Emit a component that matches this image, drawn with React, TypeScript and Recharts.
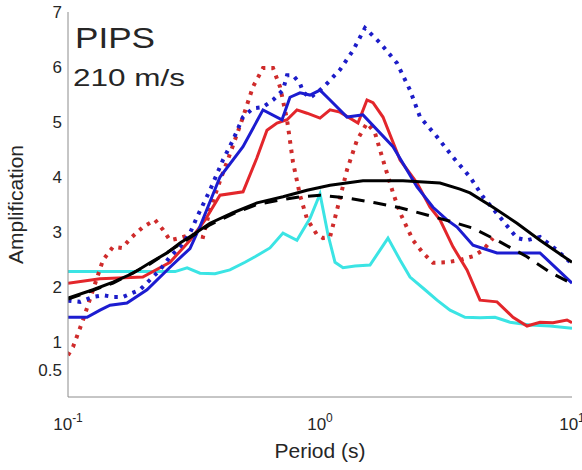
import React from "react";
import { LineChart, Line, XAxis, YAxis } from "recharts";

const FONT = "'Liberation Sans', Arial, Helvetica, sans-serif";

const xMajorTicks = [0.1, 1, 10];
const xMinorTicks = [0.2, 0.3, 0.4, 0.5, 0.6, 0.7, 0.8, 0.9, 2, 3, 4, 5, 6, 7, 8, 9];
const yTickValues = [0.5, 1, 2, 3, 4, 5, 6, 7];

const cyanP = [0.1, 0.161, 0.266, 0.297, 0.334, 0.383, 0.439, 0.504, 0.552, 0.633, 0.713, 0.81, 0.913, 1.0, 1.076, 1.147, 1.234, 1.377, 1.579, 1.73, 1.861, 2.078, 2.276, 2.61, 2.913, 3.281, 3.762, 4.314, 4.948, 5.675, 6.813, 8.178, 10];
const cyanV = [2.28, 2.28, 2.28, 2.35, 2.25, 2.24, 2.31, 2.45, 2.55, 2.71, 2.98, 2.85, 3.25, 3.69, 2.95, 2.45, 2.35, 2.38, 2.4, 2.67, 2.89, 2.49, 2.18, 1.95, 1.76, 1.58, 1.45, 1.44, 1.45, 1.36, 1.31, 1.29, 1.25];

const redP = [0.1, 0.134, 0.198, 0.254, 0.305, 0.35, 0.401, 0.495, 0.562, 0.616, 0.675, 0.74, 0.81, 0.888, 1.0, 1.096, 1.2, 1.415, 1.536, 1.623, 1.778, 2.078, 2.427, 2.733, 2.994, 3.371, 3.831, 4.314, 5.04, 5.834, 6.63, 7.464, 8.405, 9.555, 10];
const redV = [2.07, 2.15, 2.18, 2.45, 2.85, 3.22, 3.67, 3.73, 4.35, 4.85, 4.98, 5.04, 5.22, 5.16, 5.07, 5.22, 5.18, 4.98, 5.4, 5.35, 5.09, 4.31, 3.89, 3.45, 3.22, 2.73, 2.31, 1.76, 1.73, 1.45, 1.29, 1.36, 1.35, 1.4, 1.35];

const redDotP = [0.1, 0.1047, 0.1147, 0.1257, 0.1377, 0.1509, 0.1638, 0.1795, 0.1984, 0.2214, 0.2382, 0.254, 0.2783, 0.3048, 0.3433, 0.3659, 0.401, 0.4394, 0.4948, 0.542, 0.594, 0.651, 0.694, 0.74, 0.7813, 0.8329, 0.8879, 0.973, 1.028, 1.096, 1.168, 1.28, 1.402, 1.536, 1.653, 1.778, 1.949, 2.078, 2.339, 2.563, 2.808, 3.191, 3.594, 4.047, 4.435, 4.86];
const redDotV = [0.76, 0.91, 1.4, 1.95, 2.49, 2.73, 2.71, 2.91, 3.09, 3.22, 3.04, 2.85, 2.89, 2.95, 2.91, 3.4, 3.93, 4.42, 5.09, 5.64, 5.98, 5.98, 5.64, 5.04, 4.27, 3.67, 3.24, 2.95, 2.89, 2.91, 3.4, 4.13, 4.67, 4.98, 4.8, 4.31, 3.71, 3.35, 2.85, 2.62, 2.44, 2.45, 2.49, 2.56, 2.67, 2.89];

const blueP = [0.1, 0.119, 0.134, 0.1468, 0.1714, 0.2058, 0.254, 0.3048, 0.3341, 0.401, 0.4948, 0.594, 0.7067, 0.7601, 0.8329, 0.9127, 1.0, 1.096, 1.28, 1.481, 1.949, 2.427, 2.808, 3.191, 3.497, 4.047, 5.04, 7.464, 10];
const blueV = [1.45, 1.45, 1.58, 1.67, 1.71, 1.95, 2.36, 2.7, 3.1, 4.0, 4.55, 5.22, 5.04, 5.45, 5.53, 5.49, 5.58, 5.4, 5.09, 5.13, 4.55, 3.82, 3.45, 3.22, 3.09, 2.76, 2.62, 2.62, 2.07];

const blueDotP = [0.1, 0.1116, 0.1257, 0.1377, 0.1509, 0.1653, 0.1795, 0.193, 0.2115, 0.2318, 0.254, 0.2783, 0.3048, 0.3249, 0.3659, 0.4121, 0.4516, 0.4948, 0.542, 0.594, 0.651, 0.7131, 0.7399, 0.7813, 0.8329, 0.8561, 0.9127, 1.0, 1.066, 1.2, 1.352, 1.508, 1.73, 2.021, 2.276, 2.494, 2.913, 3.371, 3.937, 4.435, 5.179, 6.049, 6.63, 7.464, 8.718, 10];
const blueDotV = [1.75, 1.73, 1.82, 1.85, 1.82, 1.82, 1.89, 1.95, 2.13, 2.31, 2.55, 2.73, 2.98, 3.27, 3.76, 4.31, 4.67, 5.09, 5.25, 5.27, 5.4, 5.58, 5.85, 5.85, 5.7, 5.55, 5.44, 5.58, 5.7, 5.95, 6.3, 6.71, 6.44, 6.07, 5.58, 5.09, 4.73, 4.36, 4.0, 3.64, 3.27, 2.89, 2.85, 2.91, 2.67, 2.42];

const blackP = [0.1, 0.1257, 0.1509, 0.1811, 0.2115, 0.2471, 0.2783, 0.3133, 0.3659, 0.4516, 0.5623, 0.7131, 0.8879, 1.096, 1.481, 2.135, 2.994, 3.594, 3.937, 4.86, 6.049, 7.464, 10];
const blackV = [1.8, 1.95, 2.09, 2.25, 2.44, 2.62, 2.8, 2.95, 3.16, 3.35, 3.53, 3.64, 3.76, 3.85, 3.93, 3.93, 3.89, 3.78, 3.71, 3.45, 3.16, 2.85, 2.45];

const blackDashP = [0.1, 0.1509, 0.2115, 0.2783, 0.3659, 0.4516, 0.5623, 0.694, 0.8329, 1.0, 1.28, 1.653, 2.078, 2.658, 3.371, 4.047, 5.179, 6.63, 8.178, 10];
const blackDashV = [1.78, 2.07, 2.42, 2.78, 3.13, 3.33, 3.5, 3.58, 3.64, 3.67, 3.62, 3.53, 3.44, 3.31, 3.18, 3.07, 2.82, 2.55, 2.27, 2.06];

const zip = (p: number[], v: number[]) => p.map((x, i) => ({ p: x, v: v[i] }));

const cyanData = zip(cyanP, cyanV);
const redData = zip(redP, redV);
const redDotData = zip(redDotP, redDotV);
const blueData = zip(blueP, blueV);
const blueDotData = zip(blueDotP, blueDotV);
const blackData = zip(blackP, blackV);
const blackDashData = zip(blackDashP, blackDashV);

const AXIS = "#8c8c8c";
const TEXT = "#262626";

const XTick = (props: any) => {
  const { x, y, payload } = props;
  const exp = Math.round(Math.log10(payload.value));
  return (
    <text x={x} y={y + 33} textAnchor="middle" fontSize={17} fill={TEXT} fontFamily={FONT}>
      <tspan>10</tspan>
      <tspan dy={-8} fontSize={12}>{String(exp)}</tspan>
    </text>
  );
};

const YTick = (props: any) => {
  const { x, y, payload } = props;
  return (
    <text x={x - 6} y={y} dy="0.36em" textAnchor="end" fontSize={17} fill={TEXT} fontFamily={FONT}>
      {String(payload.value)}
    </text>
  );
};

const common = {
  type: "number" as const,
  scale: "log" as const,
  domain: [0.1, 10] as [number, number],
  allowDataOverflow: true,
};

export default function App() {
  return (
    <div style={{ position: "absolute", left: 0, top: 0, width: 582, height: 470, background: "#fff" }}>
      <LineChart width={582} height={470} margin={{ top: 12, right: 10, bottom: 0, left: 0 }}>
        <XAxis
          xAxisId="main"
          dataKey="p"
          {...common}
          ticks={xMajorTicks}
          tick={<XTick />}
          tickLine={false}
          tickSize={0}
          tickMargin={0}
          height={73}
          axisLine={{ stroke: AXIS }}
          interval={0}
        />
        <XAxis
          xAxisId="minorB"
          dataKey="p"
          {...common}
          ticks={xMinorTicks}
          tick={false}
          mirror
          height={0}
          tickSize={4}
          tickLine={{ stroke: AXIS }}
          axisLine={false}
          interval={0}
        />
        <XAxis
          xAxisId="majorB"
          dataKey="p"
          {...common}
          ticks={xMajorTicks}
          tick={false}
          mirror
          height={0}
          tickSize={6}
          tickLine={{ stroke: AXIS }}
          axisLine={false}
          interval={0}
        />
        <XAxis
          xAxisId="minorT"
          dataKey="p"
          orientation="top"
          {...common}
          ticks={xMinorTicks}
          tick={false}
          mirror
          height={0}
          tickSize={4}
          tickLine={{ stroke: AXIS }}
          axisLine={{ stroke: AXIS }}
          interval={0}
        />
        <XAxis
          xAxisId="majorT"
          dataKey="p"
          orientation="top"
          {...common}
          ticks={xMajorTicks}
          tick={false}
          mirror
          height={0}
          tickSize={6}
          tickLine={{ stroke: AXIS }}
          axisLine={false}
          interval={0}
        />
        <YAxis
          yAxisId="main"
          type="number"
          domain={[0, 7]}
          allowDataOverflow
          ticks={yTickValues}
          tick={<YTick />}
          tickLine={false}
          tickSize={0}
          tickMargin={0}
          width={68}
          axisLine={{ stroke: AXIS }}
          interval={0}
          label={{
            value: "Amplification",
            angle: -90,
            position: "insideLeft",
            offset: 0,
            dx: 16,
            style: { fontSize: 21, fill: TEXT, fontFamily: FONT, textAnchor: "middle" },
          }}
        />
        <YAxis
          yAxisId="leftTicks"
          type="number"
          domain={[0, 7]}
          allowDataOverflow
          ticks={yTickValues}
          tick={false}
          mirror
          width={0}
          tickSize={5}
          tickLine={{ stroke: AXIS }}
          axisLine={false}
          interval={0}
        />
        <YAxis
          yAxisId="right"
          orientation="right"
          type="number"
          domain={[0, 7]}
          allowDataOverflow
          ticks={yTickValues}
          tick={false}
          mirror
          width={0}
          tickSize={5}
          tickLine={{ stroke: AXIS }}
          axisLine={{ stroke: AXIS }}
          interval={0}
        />

        <Line xAxisId="main" yAxisId="main" data={cyanData} dataKey="v" type="linear" stroke="#3be4e4" strokeWidth={3} dot={false} isAnimationActive={false} />
        <Line xAxisId="main" yAxisId="main" data={redDotData} dataKey="v" type="linear" stroke="#cf2b2b" strokeWidth={4} strokeDasharray="3.5 6" dot={false} isAnimationActive={false} />
        <Line xAxisId="main" yAxisId="main" data={redData} dataKey="v" type="linear" stroke="#e3262b" strokeWidth={3} dot={false} isAnimationActive={false} />
        <Line xAxisId="main" yAxisId="main" data={blueDotData} dataKey="v" type="linear" stroke="#1c1cc8" strokeWidth={4} strokeDasharray="3.5 6" dot={false} isAnimationActive={false} />
        <Line xAxisId="main" yAxisId="main" data={blueData} dataKey="v" type="linear" stroke="#1c1cd0" strokeWidth={3} dot={false} isAnimationActive={false} />
        <Line xAxisId="main" yAxisId="main" data={blackDashData} dataKey="v" type="linear" stroke="#000" strokeWidth={3} strokeDasharray="13 9" dot={false} isAnimationActive={false} />
        <Line xAxisId="main" yAxisId="main" data={blackData} dataKey="v" type="linear" stroke="#000" strokeWidth={3} dot={false} isAnimationActive={false} />

        <text x={75} y={48} fontSize={30} fill={TEXT} fontFamily={FONT} textLength={80} lengthAdjust="spacingAndGlyphs">PIPS</text>
        <text x={73} y={86} fontSize={24} fill={TEXT} fontFamily={FONT} textLength={112} lengthAdjust="spacingAndGlyphs">210 m/s</text>
        <text x={320} y={458} fontSize={21} fill={TEXT} fontFamily={FONT} textAnchor="middle">Period (s)</text>
      </LineChart>
    </div>
  );
}
